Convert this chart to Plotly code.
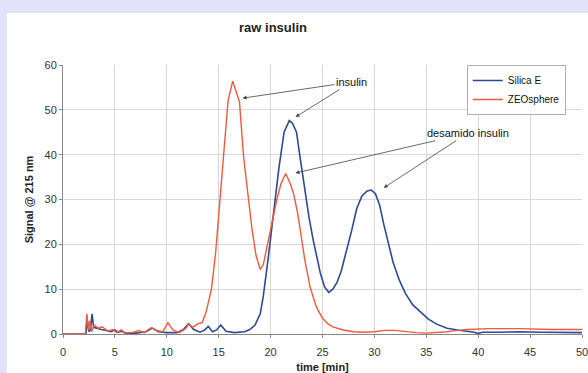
import plotly.graph_objects as go

# Silica E (blue)
silica_t = [0, 2.2, 2.35, 2.5, 2.65, 2.8, 2.95, 3.3, 3.7, 4.2, 4.6, 5.0, 5.3, 5.7, 6.0, 7.0, 8.0, 8.6, 9.2,
            10.0, 11.0, 11.6, 12.1, 12.6, 13.2, 13.6, 14.0, 14.4, 14.8, 15.2, 15.7, 16.5, 17.5, 18.0, 18.5,
            19.0, 19.3, 19.8, 20.3, 20.8, 21.3, 21.8, 22.1, 22.5, 22.8, 23.1, 23.3, 23.7, 24.1, 24.4, 24.8,
            25.2, 25.6, 26.0, 26.4, 26.8, 27.2, 27.8, 28.3, 28.8, 29.3, 29.7, 30.1, 30.5, 30.9, 31.3, 31.8, 32.4,
            33.0, 33.7, 34.4, 35.2, 36.0, 37.0, 38.0, 39.0, 39.6, 40.0, 40.4, 42.0, 44.0, 46.0, 48.0, 50.0]
silica_v = [0, 0, 3.0, 0.5, 1.0, 4.5, 1.5, 1.2, 1.0, 0.8, 0.5, 0.9, 0.4, 0.6, 0.2, 0.2, 0.5, 1.3, 0.5,
            0.3, 0.3, 1.0, 2.3, 1.0, 0.4, 0.8, 1.7, 0.5, 0.9, 2.0, 0.6, 0.3, 0.5, 1.0, 2.0,
            4.5, 8.5, 17.5, 27, 37, 45, 47.6, 47, 45, 40, 35, 32, 26, 21, 18, 13.5,
            10.5, 9.3, 10, 11.5, 14, 17.5, 23, 28, 30.8, 31.9, 32.1, 31.3, 28.8, 24.5, 20.5, 16, 12,
            9, 6.5, 5, 3.3, 2.2, 1.3, 0.9, 0.6, 0.4, 0.1, 0.4, 0.4, 0.5, 0.4, 0.3, 0.3]

# ZEOsphere (red)
zeo_t = [0, 2.15, 2.3, 2.45, 2.6, 2.75, 3.0, 3.4, 3.8, 4.3, 4.8, 5.2, 5.6, 6.0, 6.8, 7.3, 7.8, 8.5, 9.0,
         9.6, 10.1, 10.6, 11.2, 11.8, 12.1, 12.5, 13.0, 13.4, 13.8, 14.3, 14.7, 15.1, 15.5, 15.9,
         16.35, 16.7, 17.0, 17.4, 17.8, 18.2, 18.6, 19.0, 19.3, 19.7, 20.1, 20.6, 21.0, 21.45, 21.9, 22.2,
         22.6, 23.0, 23.3, 23.8, 24.4, 25.0, 25.5, 26.0, 27.0, 28.0, 29.0, 30.0, 31.0, 32.0, 33.0, 34.0,
         35.0, 36.0, 37.0, 38.0, 39.0, 41.0, 44.0, 47.0, 50.0]
zeo_v = [0, 0, 4.5, 0.8, 3.0, 0.5, 2.0, 1.3, 1.6, 0.6, 1.0, 0.3, 0.9, 0.2, 0.4, 0.8, 0.3, 1.4, 0.8,
         0.5, 2.5, 0.9, 0.3, 1.2, 2.2, 1.5, 2.3, 2.5, 5.0, 10, 18, 30, 42, 52,
         56.4, 54, 51.8, 39.5, 31, 23.5, 17.5, 14.4, 15.5, 20, 24.5, 30, 33.5, 35.8, 33.5, 31.4,
         27, 21, 16.5, 10.5, 6.1, 3.5, 2.3, 1.6, 0.9, 0.5, 0.4, 0.5, 0.8, 0.8, 0.5, 0.3,
         0.2, 0.3, 0.5, 0.8, 1.0, 1.2, 1.2, 1.0, 1.0]

x_ticks = [0, 5, 10, 15, 20, 25, 30, 35, 40, 45, 50]
y_ticks = [0, 10, 20, 30, 40, 50, 60]

BLUE = "#2b4a98"
RED = "#f05a3c"
FONT = "Liberation Sans, Arial, sans-serif"

fig = go.Figure()
fig.add_trace(go.Scatter(x=silica_t, y=silica_v, mode="lines", name="Silica E",
                         line=dict(color=BLUE, width=1.6)))
fig.add_trace(go.Scatter(x=zeo_t, y=zeo_v, mode="lines", name="ZEOsphere",
                         line=dict(color=RED, width=1.4)))

# white panel over lavender background
fig.add_shape(type="rect", xref="paper", yref="paper", x0=-0.108, x1=1.1, y0=-0.3, y1=1.193,
              fillcolor="white", line=dict(width=0), layer="below")

arrow_kw = dict(xref="x", yref="y", axref="x", ayref="y", showarrow=True, arrowhead=2,
                arrowsize=1, arrowwidth=0.8, arrowcolor="#444", font=dict(family=FONT, size=11, color="#111"))
# insulin
fig.add_annotation(x=17.3, y=52.6, ax=27.8, ay=56.2, text="insulin", **arrow_kw)
fig.add_annotation(x=22.4, y=48.4, ax=27.8, ay=56.2, text="insulin",
                   **{**arrow_kw, "font": dict(family=FONT, size=11, color="rgba(0,0,0,0)")})
# desamido insulin
fig.add_annotation(x=22.4, y=35.9, ax=39.0, ay=44.8, text="desamido insulin", **arrow_kw)
fig.add_annotation(x=30.9, y=32.6, ax=39.0, ay=44.8, text="desamido insulin",
                   **{**arrow_kw, "font": dict(family=FONT, size=11, color="rgba(0,0,0,0)")})

fig.update_layout(
    width=588, height=373,
    margin=dict(l=63, r=6, t=65, b=39),
    paper_bgcolor="#e2e2fb",
    plot_bgcolor="white",
    font=dict(family=FONT, size=11, color="#333"),
    title=dict(text="<b>raw insulin</b>", x=273/588, xref="container", xanchor="center",
               y=1 - 27/373, yref="container", yanchor="middle",
               font=dict(family=FONT, size=13, color="#222")),
    showlegend=True,
    legend=dict(x=0.778, y=1.0, xanchor="left", yanchor="top", bgcolor="white",
                bordercolor="#b0b0b0", borderwidth=1, font=dict(family=FONT, size=10, color="#111"),
                tracegroupgap=0, itemwidth=30),
    xaxis=dict(range=[0, 50], tickvals=x_ticks, ticktext=[str(v) for v in x_ticks], automargin=False,
               showgrid=True, gridcolor="#d8d8d8", gridwidth=1, zeroline=False, ticklabeloverflow="allow",
               showline=True, linecolor="#888", linewidth=1, ticks="outside", ticklen=3, tickcolor="#888",
               ticklabelstandoff=5,
               title=dict(text="<b>time [min]</b>", standoff=9, font=dict(family=FONT, size=11, color="#222"))),
    yaxis=dict(range=[0, 60], tickvals=y_ticks, ticktext=[str(v) for v in y_ticks], automargin=False,
               showgrid=True, gridcolor="#d8d8d8", gridwidth=1, zeroline=False,
               showline=True, linecolor="#888", linewidth=1, ticks="outside", ticklen=3, tickcolor="#888",
               title=dict(text="<b>Signal @ 215 nm</b>", standoff=8, font=dict(family=FONT, size=11, color="#222"))),
)

fig.write_html("out.html", config={"displayModeBar": False},
               post_script="document.body.style.margin='0';document.body.style.overflow='hidden';")
